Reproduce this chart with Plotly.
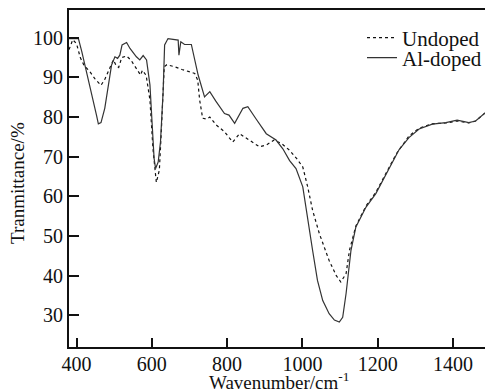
import plotly.graph_objects as go

# Undoped (dotted)
undoped_x = [380, 390, 400, 410, 420, 435, 450, 465, 475, 485, 498, 505, 512, 520, 533, 545, 560, 570, 575, 585,
             595, 603, 612, 620, 625, 633, 640, 660, 680, 700, 714, 722, 727, 735, 745, 754, 771, 793, 815, 833,
             855, 886, 905, 925, 945, 966, 985, 1001, 1014, 1027, 1045, 1071, 1090, 1102, 1116, 1125, 1142, 1169,
             1195, 1226, 1250, 1283, 1310, 1345, 1381, 1411, 1442, 1460, 1485]
undoped_y = [97, 99.5, 98.5, 95, 93, 91.5, 89.5, 88, 89.5, 91.8, 94.4, 93, 92.5, 95, 95.4, 94.3, 92, 90.6, 91.8, 90.5,
             84.3, 72, 63.5, 66.6, 76, 92.7, 93.2, 92.7, 92, 91.4, 91, 89.3, 84.3, 79.7, 79.5, 80, 78, 76.3, 73.7, 75.8,
             74.5, 72.5, 73, 74.2, 73.3, 71.6, 69.5, 67.4, 62.4, 56.5, 50.6, 43.8, 40, 38.4, 40.5, 46.4, 52.5, 57.6,
             61, 66.4, 70.8, 75.2, 77.2, 78.3, 78.5, 79, 78.5, 79, 81]

# Al-doped (solid)
aldoped_x = [380, 405, 414, 427, 440, 453, 458, 465, 475, 484, 493, 502, 509, 515, 521, 533, 542, 559, 568, 577,
             586, 595, 601, 606, 610, 617, 623, 630, 634, 643, 670, 672, 677, 687, 705, 723, 740, 754, 770, 793,
             805, 820, 842, 855, 877, 904, 930, 948, 966, 983, 1001, 1014, 1027, 1040, 1054, 1071, 1085, 1098, 1107,
             1116, 1129, 1142, 1169, 1195, 1226, 1244, 1257, 1283, 1310, 1345, 1381, 1411, 1442, 1460, 1485]
aldoped_y = [99.8, 99.8, 96.5, 91.4, 86.4, 80.5, 78.3, 78.6, 82.2, 87.2, 93.1, 95.2, 94.8, 95.6, 98.2, 98.8, 97.3, 95.2, 94.4, 95.5,
             94.4, 88.1, 78, 69.6, 67, 68.7, 73.7, 86.4, 98.2, 99.8, 99.4, 95.6, 99, 98.3, 98.3, 90.6, 85.1, 86.4, 84, 80.9,
             80.5, 78.4, 82.2, 82.6, 79.5, 75.8, 74.2, 72, 69, 67, 62.4, 54, 46.4, 38.8, 33.7, 30.4, 28.8, 28.3, 29.5,
             35.5, 46.4, 52.3, 57.3, 60.7, 66.2, 69.1, 71.8, 74.8, 77, 78.2, 78.6, 79.2, 78.6, 79, 81]

x_ticks = [400, 600, 800, 1000, 1200, 1400]
y_ticks = [30, 40, 50, 60, 70, 80, 90, 100]

FONT = "Liberation Serif, Times New Roman, serif"
W, H = 485, 392
L, R, T, B = 69, 0, 10, 45
PW, PH = W - L - R, H - T - B


def px_x(px):
    return (px - L) / PW


def px_y(py):
    return (H - B - py) / PH


fig = go.Figure()
fig.add_trace(go.Scatter(x=undoped_x, y=undoped_y, mode="lines", name="Undoped", legend="legend",
                         line=dict(color="#111111", width=1.2, dash="dot")))
fig.add_trace(go.Scatter(x=aldoped_x, y=aldoped_y, mode="lines", name="Al-doped", legend="legend2",
                         line=dict(color="#333333", width=1.2)))

leg_common = dict(xanchor="left", yanchor="middle", bgcolor="rgba(0,0,0,0)", borderwidth=0,
                  font=dict(size=21, family=FONT, color="#111111"), itemwidth=30)

fig.update_layout(
    width=W, height=H,
    margin=dict(l=L, r=R, t=T, b=B, autoexpand=False),
    paper_bgcolor="white", plot_bgcolor="white",
    font=dict(family=FONT, size=20, color="#111111"),
    showlegend=True,
    legend=dict(x=px_x(362), y=px_y(38), **leg_common),
    legend2=dict(x=px_x(362), y=px_y(58), **leg_common),
    xaxis=dict(range=[380, 1485], tickvals=x_ticks, ticks="inside", ticklen=9, tickwidth=2,
               tickcolor="#111111", showline=True, linewidth=2, linecolor="#111111", mirror=True,
               showgrid=False, zeroline=False, tickfont=dict(size=20), ticklabelstandoff=-2),
    yaxis=dict(range=[22, 107], tickvals=y_ticks, ticks="inside", ticklen=10, tickwidth=2,
               tickcolor="#111111", showline=True, linewidth=2, linecolor="#111111",
               showgrid=False, zeroline=False, tickfont=dict(size=20)),
    annotations=[
        dict(text="Wavenumber/cm<sup>-1</sup>", x=px_x(279), y=px_y(381), xref="paper", yref="paper",
             xanchor="center", yanchor="middle", showarrow=False, font=dict(size=19)),
        dict(text="Tranmittance/%", x=px_x(17), y=px_y(183), xref="paper", yref="paper",
             xanchor="center", yanchor="middle", showarrow=False, textangle=-90, font=dict(size=19)),
    ],
)
fig.write_html("out.html", config={"displayModeBar": False},
               post_script="document.body.style.margin='0';document.body.style.overflow='hidden';")
